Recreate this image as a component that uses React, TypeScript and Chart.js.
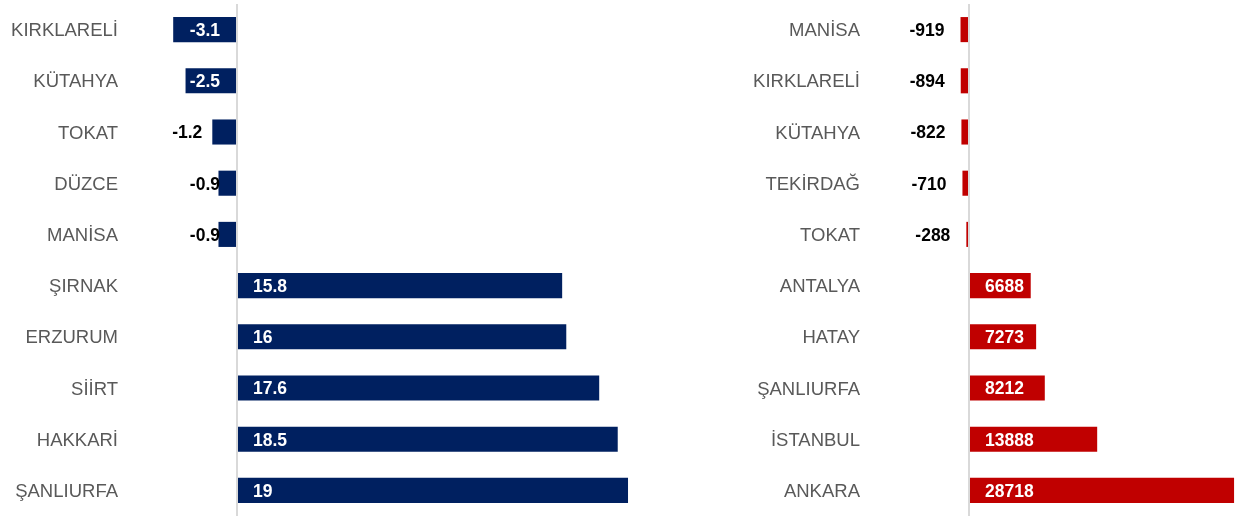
import React, { useEffect, useRef } from "react";
import { Chart, registerables } from "chart.js";

Chart.register(...registerables);

const leftLabels = ["KIRKLARELİ", "KÜTAHYA", "TOKAT", "DÜZCE", "MANİSA", "ŞIRNAK", "ERZURUM", "SİİRT", "HAKKARİ", "ŞANLIURFA"];
const leftValues = [-3.1, -2.5, -1.2, -0.9, -0.9, 15.8, 16, 17.6, 18.5, 19];

const rightLabels = ["MANİSA", "KIRKLARELİ", "KÜTAHYA", "TEKİRDAĞ", "TOKAT", "ANTALYA", "HATAY", "ŞANLIURFA", "İSTANBUL", "ANKARA"];
const rightValues = [-919, -894, -822, -710, -288, 6688, 7273, 8212, 13888, 28718];

const FONT = "'Liberation Sans', Arial, sans-serif";

type PanelProps = {
  labels: string[];
  values: number[];
  color: string;
  min: number;
  max: number;
  yWidth: number;
  width: number;
  left: number;
  negMode: "inside" | "outside";
};

function BarPanel(p: PanelProps) {
  const ref = useRef<HTMLCanvasElement | null>(null);
  useEffect(() => {
    if (!ref.current) return;
    const labelPlugin = {
      id: "valueLabels",
      afterDatasetsDraw(chart: any) {
        const ctx = chart.ctx;
        const meta = chart.getDatasetMeta(0);
        ctx.save();
        ctx.font = `bold 17.5px ${FONT}`;
        ctx.textBaseline = "middle";
        meta.data.forEach((el: any, i: number) => {
          const v = p.values[i];
          const txt = String(v);
          const w = ctx.measureText(txt).width;
          const y = el.y + 1.5;
          if (v >= 0) {
            ctx.fillStyle = "#ffffff";
            ctx.textAlign = "left";
            ctx.fillText(txt, el.base + 15, y);
          } else {
            const barLeft = Math.min(el.x, el.base);
            ctx.textAlign = "right";
            if (p.negMode === "inside") {
              let R = el.base - 16;
              if (R - w >= barLeft + 1) {
                ctx.fillStyle = "#ffffff";
              } else {
                ctx.fillStyle = "#000000";
                if (R - barLeft > 4) R = barLeft - 10;
              }
              ctx.fillText(txt, R, y);
            } else {
              ctx.fillStyle = "#000000";
              ctx.fillText(txt, barLeft - 16, y);
            }
          }
        });
        ctx.restore();
      },
    };
    const chart = new Chart(ref.current, {
      type: "bar",
      data: {
        labels: p.labels,
        datasets: [
          {
            data: p.values,
            backgroundColor: p.color,
            borderWidth: 0,
            barPercentage: 0.49,
            categoryPercentage: 1,
          },
        ],
      },
      options: {
        indexAxis: "y",
        responsive: false,
        animation: false,
        layout: { padding: { top: 4, bottom: 0, left: 0, right: 0 } },
        plugins: { legend: { display: false }, tooltip: { enabled: false } },
        scales: {
          y: {
            type: "category",
            grid: { display: false, drawTicks: false },
            border: { display: false },
            ticks: { color: "#595959", font: { family: FONT, size: 18.5 }, padding: 7, labelOffset: 1.5 },
            afterFit: (s: any) => {
              s.width = p.yWidth;
              s.paddingTop = 0;
              s.paddingBottom = 0;
            },
          },
          x: {
            type: "linear",
            min: p.min,
            max: p.max,
            afterBuildTicks: (s: any) => {
              s.ticks = [{ value: 0 }];
            },
            afterFit: (s: any) => {
              s.height = 0;
              s.paddingLeft = 0;
              s.paddingRight = 0;
            },
            ticks: { display: false },
            grid: { color: "#d9d9d9", lineWidth: 2, drawTicks: false, z: 1 },
            border: { display: false },
          },
        },
      } as any,
      plugins: [labelPlugin],
    });
    return () => chart.destroy();
  }, []);
  return (
    <canvas
      ref={ref}
      width={p.width}
      height={516}
      style={{ position: "absolute", left: p.left, top: 0, width: p.width, height: 516 }}
    />
  );
}

export default function App() {
  return (
    <div style={{ position: "absolute", left: 0, top: 0, width: 1243, height: 516, background: "#fff" }}>
      <BarPanel
        labels={leftLabels}
        values={leftValues}
        color="#002060"
        min={-5.442}
        max={20.554}
        yWidth={125}
        width={660}
        left={0}
        negMode="inside"
      />
      <BarPanel
        labels={rightLabels}
        values={rightValues}
        color="#C00000"
        min={-11051}
        max={29686}
        yWidth={207}
        width={583}
        left={660}
        negMode="outside"
      />
    </div>
  );
}
